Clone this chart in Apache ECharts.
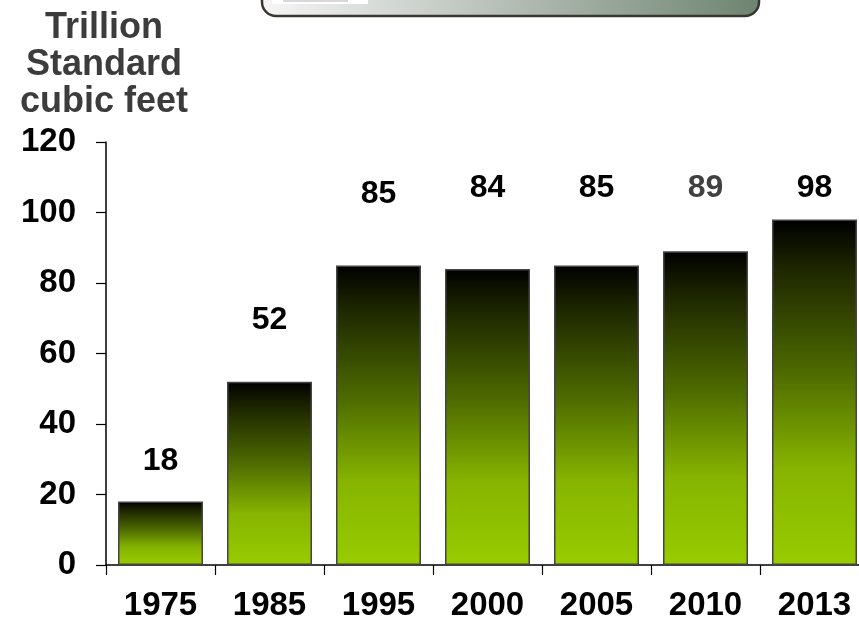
<!DOCTYPE html>
<html>
<head>
<meta charset="utf-8">
<script src="https://cdn.jsdelivr.net/npm/echarts@6/dist/echarts.min.js"></script>
<style>
  html, body { margin: 0; padding: 0; background: #fff; }
  #chart { width: 859px; height: 619px; }
</style>
</head>
<body>
<div id="chart"></div>
<script>
// Natural gas consumption, trillion standard cubic feet
const years = ['1975', '1985', '1995', '2000', '2005', '2010', '2013'];
const volumes = [18, 52, 85, 84, 85, 89, 98];
const labelGaps = [24, 46, 55, 65, 61, 47, 15];
const labelColors = ['#000', '#000', '#000', '#000', '#000', '#404040', '#000'];
const yTicks = [0, 20, 40, 60, 80, 100, 120];

const FONT = 'Liberation Sans, Arial, sans-serif';

const barFill = new echarts.graphic.LinearGradient(0, 0, 0, 1, [
  { offset: 0, color: '#000000' },
  { offset: 0.15, color: '#1e2800' },
  { offset: 0.45, color: '#4f6c00' },
  { offset: 0.72, color: '#86b400' },
  { offset: 1, color: '#99cc00' }
]);

const chart = echarts.init(document.getElementById('chart'));
chart.setOption({
  animation: false,
  backgroundColor: '#ffffff',
  title: {
    text: 'Trillion\nStandard\ncubic feet',
    left: 99,
    top: 5,
    textAlign: 'center',
    textStyle: {
      fontFamily: FONT,
      fontWeight: 'bold',
      fontSize: 36,
      lineHeight: 37,
      color: '#3c3c3c'
    }
  },
  graphic: [
    {
      type: 'rect',
      shape: { x: 262, y: -30, width: 497, height: 46, r: 14 },
      style: {
        fill: new echarts.graphic.LinearGradient(0, 0, 1, 0, [
          { offset: 0, color: '#f6f6f6' },
          { offset: 0.4, color: '#c2c8c2' },
          { offset: 1, color: '#6d8470' }
        ]),
        stroke: '#3a3631',
        lineWidth: 2.5
      },
      z: 10
    },
    {
      type: 'rect',
      shape: { x: 272, y: 0, width: 96, height: 4 },
      style: { fill: '#ffffff' },
      z: 11
    },
    {
      type: 'rect',
      shape: { x: 283, y: 0, width: 65, height: 2 },
      style: { fill: '#d8d8d8' },
      z: 12
    }
  ],
  grid: {
    left: 106, width: 763, top: 142, bottom: 54,
    containLabel: false,
    outerBoundsMode: 'none'
  },
  xAxis: {
    type: 'category',
    data: years,
    boundaryGap: true,
    axisLine: { lineStyle: { color: '#000', width: 1.5 } },
    axisTick: { show: true, length: 10, inside: false, alignWithLabel: false, lineStyle: { color: '#000', width: 1.2 } },
    axisLabel: {
      margin: 24,
      fontFamily: FONT,
      fontWeight: 'bold',
      fontSize: 33,
      color: '#000'
    }
  },
  yAxis: {
    type: 'value',
    min: yTicks[0],
    max: yTicks[yTicks.length - 1],
    interval: yTicks[1] - yTicks[0],
    splitLine: { show: false },
    axisLine: { show: true, lineStyle: { color: '#000', width: 1.5 } },
    axisTick: { show: true, length: 10, lineStyle: { color: '#000', width: 1.2 } },
    axisLabel: {
      margin: 30,
      fontFamily: FONT,
      fontWeight: 'bold',
      fontSize: 33,
      color: '#000'
    }
  },
  series: [{
    type: 'bar',
    barWidth: 85,
    data: volumes.map((v, i) => ({
      value: v,
      label: { distance: labelGaps[i], color: labelColors[i] }
    })),
    itemStyle: {
      color: barFill,
      borderColor: '#454545',
      borderWidth: 1.5
    },
    label: {
      show: true,
      position: 'top',
      fontFamily: FONT,
      fontWeight: 'bold',
      fontSize: 32,
      color: '#000'
    }
  }]
});
</script>
</body>
</html>
